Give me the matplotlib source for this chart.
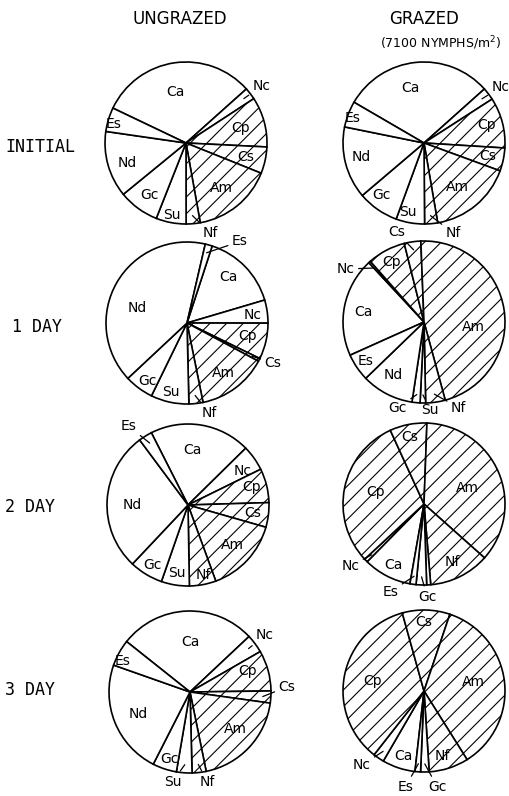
import numpy as np
import matplotlib.pyplot as plt

plt.rcParams["font.family"] = ["DejaVu Sans"]
plt.rcParams["hatch.linewidth"] = 0.8

taxa = ["Ca", "Nc", "Cp", "Cs", "Am", "Nf", "Su", "Gc", "Nd", "Es"]
hatched_taxa = ["Cp", "Cs", "Am", "Nf"]

# percent of community, same order as taxa
ungrazed_initial = [31.3, 2.4, 10.0, 5.3, 16.1, 2.8, 6.0, 8.1, 13.2, 4.8]
grazed_initial = [30.0, 2.5, 10.1, 4.6, 16.7, 2.6, 5.7, 8.2, 14.4, 5.2]
ungrazed_day1 = [15.4, 4.6, 7.2, 0.6, 14.0, 2.8, 7.6, 5.8, 40.6, 1.4]
grazed_day1 = [19.8, 0.4, 7.6, 3.3, 46.4, 3.9, 1.1, 1.6, 10.4, 5.5]
ungrazed_day2 = [20.1, 5.1, 6.8, 4.9, 15.0, 5.3, 5.6, 6.7, 27.8, 2.7]
grazed_day2 = [9.6, 0.7, 30.1, 7.4, 36.0, 12.1, 0.8, 2.1, 0.0, 1.2]
ungrazed_day3 = [27.3, 3.7, 8.1, 2.4, 19.6, 2.8, 3.1, 4.8, 22.9, 5.3]
grazed_day3 = [6.6, 2.2, 35.1, 9.5, 35.9, 7.9, 0.0, 1.7, 0.0, 1.1]

row_labels = ["INITIAL", "1 DAY", "2 DAY", "3 DAY"]

W, H = 510, 796
R = 81

# (values, centre x, centre y from top, angle where Ca starts)
pies = [
    (ungrazed_initial, 186, 143, 154.5),
    (grazed_initial, 424, 143, 149.8),
    (ungrazed_day1, 187, 323, 71.9),
    (grazed_day1, 424, 322, 204.2),
    (ungrazed_day2, 188, 505, 116.9),
    (grazed_day2, 424, 504, 260.0),
    (ungrazed_day3, 190, 692, 141.5),
    (grazed_day3, 424, 691, 263.6),
]

# label placement: taxon -> (radius fraction, angle in degrees)
label_pos = [
    {"Ca": (0.64, 102), "Nc": (1.17, 37), "Cp": (0.70, 15), "Cs": (0.75, -13),
     "Am": (0.70, -52), "Nf": (1.15, -75), "Su": (0.90, -101), "Gc": (0.78, 235),
     "Nd": (0.77, 199), "Es": (0.92, 165)},
    {"Ca": (0.70, 104), "Nc": (1.17, 36), "Cp": (0.80, 16), "Cs": (0.80, -12),
     "Am": (0.68, -53), "Nf": (1.17, -72), "Su": (0.87, -103), "Gc": (0.83, 231),
     "Nd": (0.79, 193), "Es": (0.93, 161)},
    {"Ca": (0.76, 48), "Nc": (0.82, 7), "Cp": (0.76, -12), "Cs": (1.17, -25),
     "Am": (0.76, -54), "Nf": (1.15, -76), "Su": (0.88, -103), "Gc": (0.87, 236),
     "Nd": (0.64, 163), "Es": (1.20, 57)},
    {"Ca": (0.76, 171), "Nc": (1.17, 146), "Cp": (0.84, 118), "Cs": (1.16, 107),
     "Am": (0.61, -6), "Nf": (1.14, -68), "Su": (1.09, -86), "Gc": (1.11, -107),
     "Nd": (0.76, 240), "Es": (0.87, 214)},
    {"Ca": (0.68, 85), "Nc": (0.80, 32), "Cp": (0.82, 16), "Cs": (0.81, -7),
     "Am": (0.74, -42), "Nf": (0.88, -78), "Su": (0.85, -99), "Gc": (0.86, 239),
     "Nd": (0.69, 180), "Es": (1.22, 127)},
    {"Ca": (0.84, 243), "Nc": (1.19, 220), "Cp": (0.62, 166), "Cs": (0.84, 102),
     "Am": (0.57, 20), "Nf": (0.80, -64), "Gc": (1.15, -88), "Es": (1.16, -111)},
    {"Ca": (0.62, 90), "Nc": (1.16, 37), "Cp": (0.76, 20), "Cs": (1.20, 3),
     "Am": (0.72, -39), "Nf": (1.13, -79), "Su": (1.13, -101), "Gc": (0.86, -107),
     "Nd": (0.70, 203), "Es": (0.92, 155)},
    {"Ca": (0.84, -108), "Nc": (1.20, -130), "Cp": (0.65, 169), "Cs": (0.85, 90),
     "Am": (0.62, 10), "Nf": (0.84, -74), "Gc": (1.20, -82), "Es": (1.21, -101)},
]

label_font = dict(fontsize=10)

fig = plt.figure(figsize=(W / 100, H / 100), dpi=100)
ax = fig.add_axes([0, 0, 1, 1])

for (values, cx, cy, start), labels in zip(pies, label_pos):
    centre = (cx, H - cy)
    keep = [i for i, v in enumerate(values) if v > 0]
    sizes = [values[i] for i in keep]
    ax.pie(sizes, startangle=start, counterclock=False, center=centre, radius=R,
           colors=["white"] * len(sizes),
           hatch=["//" if taxa[i] in hatched_taxa else "" for i in keep],
           wedgeprops=dict(edgecolor="black", linewidth=1.2))

    # mid angle of each slice, for leader lines
    total = float(sum(values))
    cum = np.cumsum([0.0] + list(values))
    for name, (r, ang) in labels.items():
        i = taxa.index(name)
        mid = start - 360.0 * (cum[i] + cum[i + 1]) / 2 / total
        tx = centre[0] + r * R * np.cos(np.radians(ang))
        ty = centre[1] + r * R * np.sin(np.radians(ang))
        if r > 1.0:
            px = centre[0] + 0.9 * R * np.cos(np.radians(mid))
            py = centre[1] + 0.9 * R * np.sin(np.radians(mid))
            ax.annotate(name, xy=(px, py), xytext=(tx, ty), ha="center", va="center",
                        arrowprops=dict(arrowstyle="-", lw=0.9, shrinkA=1, shrinkB=0),
                        **label_font)
        else:
            ax.text(tx, ty, name, ha="center", va="center", **label_font)

ax.text(180, H - 19, "UNGRAZED", ha="center", va="center", fontsize=12)
ax.text(424, H - 19, "GRAZED", ha="center", va="center", fontsize=12)
ax.text(441, H - 43, "(7100 NYMPHS/m$^{2}$)", ha="center", va="center", fontsize=9)

for lab, y, x in zip(row_labels, [147, 327, 507, 690], [5, 12, 5, 5]):
    ax.text(x, H - y, lab, ha="left", va="center", fontsize=12,
            family="DejaVu Sans Mono")

ax.set_xlim(0, W)
ax.set_ylim(0, H)
ax.set_aspect("equal")
ax.axis("off")

fig.savefig("out.png", dpi=100, facecolor="white")
